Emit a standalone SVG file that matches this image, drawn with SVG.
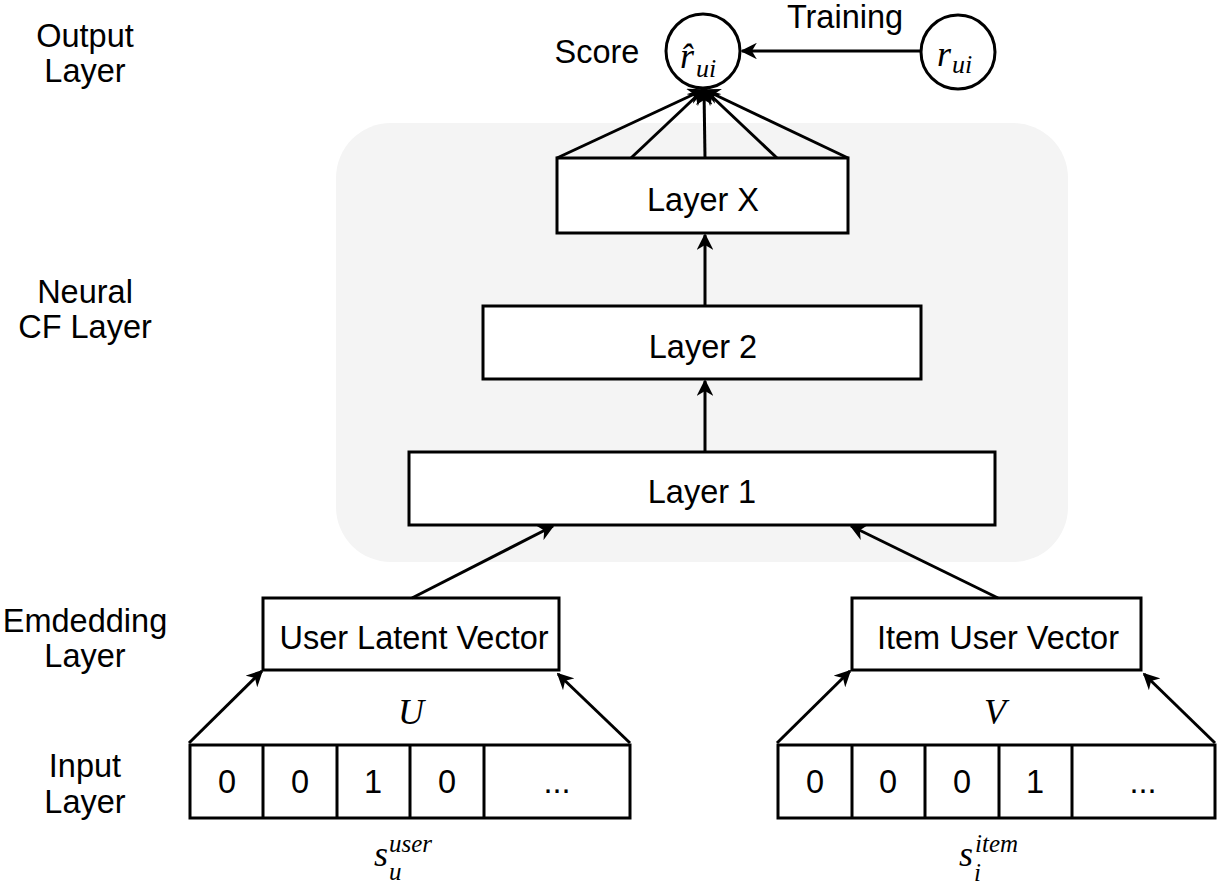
<svg xmlns="http://www.w3.org/2000/svg" width="1226" height="886" viewBox="0 0 1226 886">
<style>
.box{fill:#fff;stroke:#000;stroke-width:3}
.t{font-family:"Liberation Sans",Arial,sans-serif;font-size:32.5px;fill:#000}
.m{font-family:"Liberation Serif","Times New Roman",serif;font-style:italic;fill:#000}
.c{stroke:#000;stroke-width:3;fill:none}
</style>
<defs>
<marker id="ah" viewBox="0 0 10 10" refX="9" refY="5" markerWidth="5.5" markerHeight="5.5" orient="auto" markerUnits="strokeWidth">
<path d="M0,0 L10,5 L0,10 L3,5 z" fill="#000"/>
</marker>
</defs>
<rect x="336" y="123" width="732" height="439" rx="55" ry="55" fill="#f4f4f4"/>
<g id="labels">
<text class="t" x="85" y="47" text-anchor="middle">Output</text>
<text class="t" x="85" y="82" text-anchor="middle">Layer</text>
<text class="t" x="85" y="303" text-anchor="middle">Neural</text>
<text class="t" x="85" y="338" text-anchor="middle">CF Layer</text>
<text class="t" x="85" y="632" text-anchor="middle">Emdedding</text>
<text class="t" x="85" y="667" text-anchor="middle">Layer</text>
<text class="t" x="85" y="777" text-anchor="middle">Input</text>
<text class="t" x="85" y="813" text-anchor="middle">Layer</text>
<text class="t" x="597" y="63" text-anchor="middle">Score</text>
<text class="t" x="845" y="28" text-anchor="middle">Training</text>
</g>
<g id="score">
<circle class="box" cx="703" cy="51" r="37"/>
<text class="m"><tspan x="680" y="68" font-size="36">r&#770;</tspan><tspan x="696" y="77" font-size="26">ui</tspan></text>
</g>
<g id="truth">
<circle class="box" cx="958" cy="52" r="37"/>
<text class="m"><tspan x="937" y="66" font-size="36">r</tspan><tspan x="952" y="73" font-size="26">ui</tspan></text>
</g>
<g id="layerX">
<rect class="box" x="557" y="158" width="291" height="75"/>
<text class="t" x="703" y="211" text-anchor="middle">Layer X</text>
</g>
<g id="layer2">
<rect class="box" x="483" y="306" width="438" height="73"/>
<text class="t" x="703" y="358" text-anchor="middle">Layer 2</text>
</g>
<g id="layer1">
<rect class="box" x="409" y="452" width="586" height="73"/>
<text class="t" x="702" y="503" text-anchor="middle">Layer 1</text>
</g>
<g id="userVec">
<rect class="box" x="263" y="598" width="296" height="72"/>
<text class="t" x="414" y="649" text-anchor="middle">User Latent Vector</text>
</g>
<g id="itemVec">
<rect class="box" x="852" y="598" width="289" height="72"/>
<text class="t" x="998" y="649" text-anchor="middle">Item User Vector</text>
</g>
<g id="userInput">
<rect class="box" x="190" y="745" width="440" height="73"/>
<path class="c" d="M263,745V818M337,745V818M410,745V818M484,745V818"/>
<text class="t" x="227" y="793" text-anchor="middle">0</text>
<text class="t" x="300" y="793" text-anchor="middle">0</text>
<text class="t" x="373" y="793" text-anchor="middle">1</text>
<text class="t" x="447" y="793" text-anchor="middle">0</text>
<text class="t" x="557" y="793" text-anchor="middle">...</text>
<text class="m" x="411" y="724" font-size="36" text-anchor="middle">U</text>
<text class="m"><tspan x="374" y="866" font-size="36">s</tspan><tspan x="389" y="852" font-size="25">user</tspan><tspan x="389" y="880" font-size="25">u</tspan></text>
</g>
<g id="itemInput">
<rect class="box" x="778" y="745" width="437" height="73"/>
<path class="c" d="M852,745V818M925,745V818M999,745V818M1072,745V818"/>
<text class="t" x="815" y="793" text-anchor="middle">0</text>
<text class="t" x="888" y="793" text-anchor="middle">0</text>
<text class="t" x="962" y="793" text-anchor="middle">0</text>
<text class="t" x="1035" y="793" text-anchor="middle">1</text>
<text class="t" x="1143" y="793" text-anchor="middle">...</text>
<text class="m" x="995" y="724" font-size="36" text-anchor="middle">V</text>
<text class="m"><tspan x="959" y="866" font-size="36">s</tspan><tspan x="975" y="852" font-size="25">item</tspan><tspan x="974" y="881" font-size="25">i</tspan></text>
</g>
<g id="connectors">
<path class="c" d="M920,51H742" marker-end="url(#ah)"/>
<path class="c" d="M557,158L703,90" marker-end="url(#ah)"/>
<path class="c" d="M631,158L703,90" marker-end="url(#ah)"/>
<path class="c" d="M705,158L704,90" marker-end="url(#ah)"/>
<path class="c" d="M777,158L705,90" marker-end="url(#ah)"/>
<path class="c" d="M848,158L705,90" marker-end="url(#ah)"/>
<path class="c" d="M705,306V235" marker-end="url(#ah)"/>
<path class="c" d="M705,452V381" marker-end="url(#ah)"/>
<path class="c" d="M412,598L553,526" marker-end="url(#ah)"/>
<path class="c" d="M998,598L851,526" marker-end="url(#ah)"/>
<path class="c" d="M189,743L262,671" marker-end="url(#ah)"/>
<path class="c" d="M630,743L558,674" marker-end="url(#ah)"/>
<path class="c" d="M777,743L850,671" marker-end="url(#ah)"/>
<path class="c" d="M1215,743L1144,674" marker-end="url(#ah)"/>
</g>
</svg>
